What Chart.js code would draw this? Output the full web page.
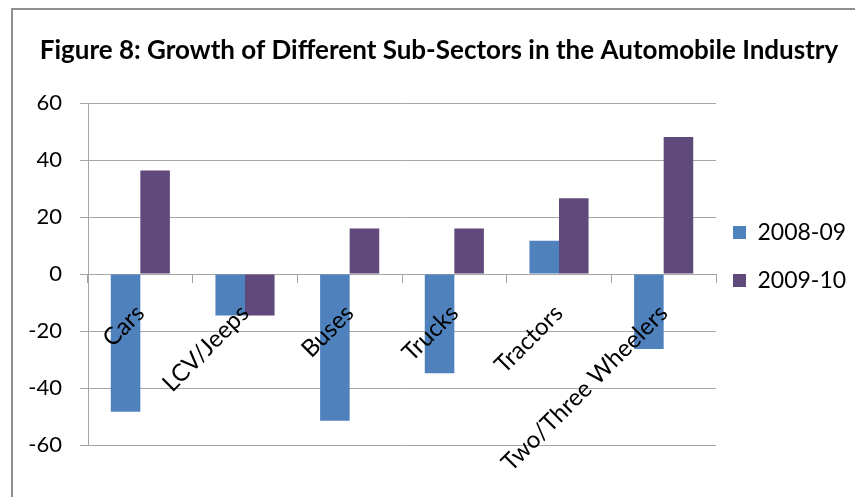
<!DOCTYPE html>
<html>
<head>
<meta charset="utf-8">
<script src="https://cdn.jsdelivr.net/npm/chart.js@4.4.1/dist/chart.umd.min.js"></script>
<style>
  html, body { margin: 0; padding: 0; background: #fff; overflow: hidden; }
  #frame {
    position: absolute; left: 11px; top: 8px; width: 900px; height: 600px;
    border-top: 2px solid #8f8f8f; border-left: 2px solid #8f8f8f;
  }
  #wrap { position: absolute; left: 0; top: 0; width: 855px; height: 497px; }
</style>
</head>
<body>
<div id="frame"></div>
<div id="wrap"><canvas id="chart"></canvas></div>
<script>
// Dados do gráfico
const categories = ['Cars', 'LCV/Jeeps', 'Buses', 'Trucks', 'Tractors', 'Two/Three Wheelers'];
const growth0809 = [-48.3, -14.5, -51.5, -34.8, 11.7, -26.3];
const growth0910 = [36.4, -14.5, 16, 16, 26.6, 48.1];
const seriesLabels = ['2008-09', '2009-10'];
const yTicks = [-60, -40, -20, 0, 20, 40, 60];

const FONT = 'Lato';
const GRID = '#a6a6a6';

// Ajusta a posição da legenda para ficar como no original
const legendShift = {
    id: 'legendShift',
    afterLayout(chart) {
        const lg = chart.legend;
        if (lg) {
            lg.left -= 8;
            lg.right -= 8;
            lg.top += 34;
            lg.bottom += 34;
        }
    }
};

const ctx = document.getElementById('chart').getContext('2d');
new Chart(ctx, {
    type: 'bar',
    data: {
        labels: categories,
        datasets: [
            { label: seriesLabels[0], data: growth0809, backgroundColor: '#4f81bd' },
            { label: seriesLabels[1], data: growth0910, backgroundColor: '#604a7b' }
        ]
    },
    plugins: [legendShift],
    options: {
        responsive: true,
        maintainAspectRatio: false,
        animation: false,
        datasets: {
            bar: { barPercentage: 1, categoryPercentage: 0.565 }
        },
        layout: { padding: { left: 23, right: 0, top: 0, bottom: 52 } },
        plugins: {
            title: {
                display: true,
                text: 'Figure 8: Growth of Different Sub-Sectors in the Automobile Industry',
                color: '#000',
                font: { family: FONT, size: 26, weight: 'bold' },
                padding: { top: 35, bottom: 37 }
            },
            legend: {
                position: 'right',
                maxWidth: 139,
                labels: {
                    color: '#000',
                    font: { family: FONT, size: 23 },
                    boxWidth: 13,
                    boxHeight: 13,
                    padding: 25
                }
            },
            tooltip: { enabled: false }
        },
        scales: {
            x: {
                type: 'category',
                position: { y: 0 },
                grid: {
                    offset: true,
                    drawOnChartArea: false,
                    drawTicks: true,
                    tickLength: 8,
                    color: GRID
                },
                border: { display: true, color: GRID },
                ticks: {
                    z: 1,
                    color: '#000',
                    font: { family: FONT, size: 24 },
                    minRotation: 45,
                    maxRotation: 45,
                    padding: 17,
                    autoSkip: false
                }
            },
            y: {
                min: -60,
                max: 60,
                afterBuildTicks: function (scale) {
                    scale.ticks = yTicks.map(v => ({ value: v }));
                },
                afterFit: function (scale) {
                    scale.width = 65;
                },
                grid: { color: GRID, tickLength: 8 },
                border: { display: true, color: GRID },
                ticks: {
                    color: '#000',
                    font: { family: FONT, size: 22 },
                    padding: 18
                }
            }
        }
    }
});
</script>
</body>
</html>
